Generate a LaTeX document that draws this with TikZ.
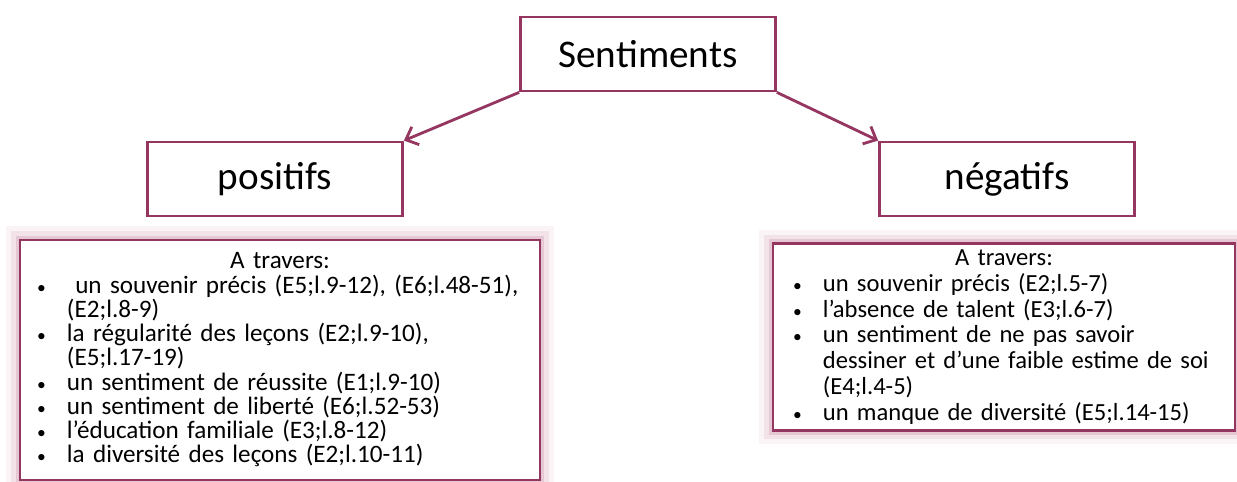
\documentclass[tikz,border=0pt]{standalone}
\usepackage{fontspec}
\setmainfont{Carlito}
\usetikzlibrary{arrows.meta}
\definecolor{plum}{RGB}{148,54,95}
\definecolor{glow}{RGB}{205,150,172}
\newcommand{\dotitem}{\makebox[17pt][l]{\fontsize{10}{10}\selectfont\textbullet}}
\newcommand{\contitem}{\hspace*{17pt}}

\begin{document}
\begin{tikzpicture}[x=0.02cm,y=-0.02cm,
  head/.style={draw=plum, line width=1.6pt, minimum width=5.1cm, minimum height=1.48cm, font=\fontsize{22.3}{26}\selectfont},
  listbox/.style={draw=plum, line width=1.6pt, fill=white, align=left,
    preaction={draw=glow, opacity=0.1, line width=16pt},
    preaction={draw=glow, opacity=0.18, line width=10pt},
    preaction={draw=glow, opacity=0.35, line width=5pt}},
  link/.style={plum, line width=1.6pt, -{Straight Barb[length=6pt,width=11pt]}}]

\useasboundingbox (0,0) rectangle (1237,482);

\node[head] (sent) at (648,54) {Sentiments};
\node[head] (pos) at (275,179) {positifs};
\node[head] (neg) at (1007,179) {négatifs};

\draw[link] (sent.south west) -- (pos.north east);
\draw[link] (sent.south east) -- (neg.north west);

\node[listbox, minimum width=10.4cm, minimum height=4.8cm, inner xsep=0.34cm, text width=9.72cm,
  font=\fontsize{14.3}{13.8}\selectfont] (poslist) at (280,360) {%
\lineskiplimit=-20pt
\makebox[\linewidth][c]{A travers:}\\
\mbox{\dotitem\ un souvenir précis (E5;l.9-12), (E6;l.48-51),}\\
\contitem(E2;l.8-9)\\
\dotitem la régularité des leçons (E2;l.9-10),\\
\contitem(E5;l.17-19)\\
\dotitem un sentiment de réussite (E1;l.9-10)\\
\dotitem un sentiment de liberté (E6;l.52-53)\\
\dotitem l’éducation familiale (E3;l.8-12)\\
\dotitem la diversité des leçons (E2;l.10-11)};

\node[listbox, minimum width=9.24cm, minimum height=3.7cm, inner xsep=0.4cm, text width=8.44cm,
  font=\fontsize{14}{14.7}\selectfont] (neglist) at (1004,337) {%
\lineskiplimit=-20pt
\makebox[\linewidth][c]{A travers:}\\
\dotitem un souvenir précis (E2;l.5-7)\\
\dotitem l’absence de talent (E3;l.6-7)\\
\dotitem un sentiment de ne pas savoir\\
\contitem dessiner et d’une faible estime de soi\\
\contitem(E4;l.4-5)\\
\dotitem un manque de diversité (E5;l.14-15)};
\end{tikzpicture}
\end{document}
